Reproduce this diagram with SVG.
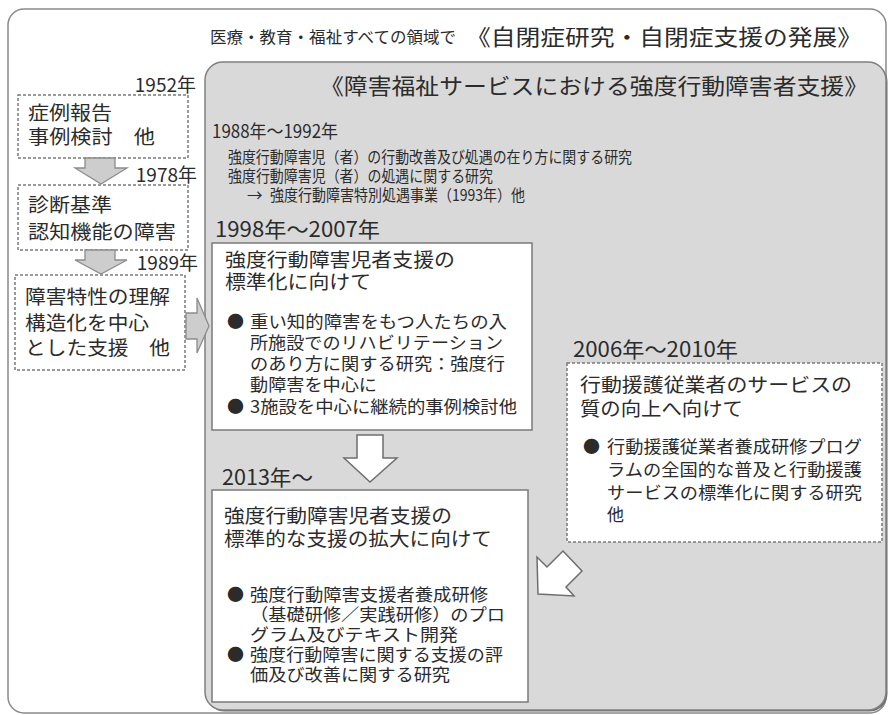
<svg xmlns="http://www.w3.org/2000/svg" width="888" height="715" viewBox="0 0 888 715">
<style>
text{font-family:"Noto Sans CJK JP","Noto Sans",sans-serif;fill:#2b2b2b}
.dash{fill:#fff;stroke:#7a7a7a;stroke-width:1.5;stroke-dasharray:3 2}
.solid{fill:#fff;stroke:#7a7a7a;stroke-width:1.5}
.garrow{fill:#cdcdcd;stroke:#8c8c8c;stroke-width:1.3}
.warrow{fill:#fff;stroke:#6e6e6e;stroke-width:1.5}
.t20{font-size:19px}
.t18{font-size:17px}
.t16{font-size:15.5px}
</style>
<rect x="8" y="9" width="878" height="704" rx="16" fill="#fff" stroke="#8a8a8a" stroke-width="1.5"/>
<text x="210" y="43" font-size="16" textLength="246" lengthAdjust="spacingAndGlyphs">医療・教育・福祉すべての領域で</text>
<text x="466" y="45" font-size="22" textLength="396" lengthAdjust="spacingAndGlyphs">《自閉症研究・自閉症支援の発展》</text>

<g id="panel">
<rect x="206.5" y="63.5" width="681" height="648" rx="18" fill="#6f6f6f"/>
<rect x="205" y="62" width="681" height="648" rx="18" fill="#d9d9d9" stroke="#808080" stroke-width="1.5"/>
<text x="320" y="94" font-size="22" textLength="548" lengthAdjust="spacingAndGlyphs">《障害福祉サービスにおける強度行動障害者支援》</text>
</g>

<g id="left1952">
<text x="196" y="92" font-size="19" text-anchor="end">1952年</text>
<rect class="dash" x="18" y="95" width="170" height="63"/>
<text class="t20" x="28" y="120" textLength="84" lengthAdjust="spacingAndGlyphs">症例報告</text>
<text class="t20" x="28" y="144" textLength="127" lengthAdjust="spacingAndGlyphs">事例検討　他</text>
</g>
<g id="left1978">
<text x="197" y="182" font-size="19" text-anchor="end">1978年</text>
<rect class="dash" x="18" y="185" width="170" height="65"/>
<text class="t20" x="28" y="212" textLength="84" lengthAdjust="spacingAndGlyphs">診断基準</text>
<text class="t20" x="28" y="239" textLength="148" lengthAdjust="spacingAndGlyphs">認知機能の障害</text>
</g>
<g id="left1989">
<text x="198" y="270" font-size="19" text-anchor="end">1989年</text>
<rect class="dash" x="15" y="275" width="170" height="95"/>
<text class="t20" x="25" y="304" textLength="145" lengthAdjust="spacingAndGlyphs">障害特性の理解</text>
<text class="t20" x="25" y="330" textLength="124" lengthAdjust="spacingAndGlyphs">構造化を中心</text>
<text class="t20" x="25" y="355" textLength="145" lengthAdjust="spacingAndGlyphs">とした支援　他</text>
</g>

<g id="p1988">
<text x="212" y="138" font-size="18" textLength="126" lengthAdjust="spacingAndGlyphs">1988年～1992年</text>
<text class="t16" x="228" y="163" textLength="404" lengthAdjust="spacingAndGlyphs">強度行動障害児（者）の行動改善及び処遇の在り方に関する研究</text>
<text class="t16" x="228" y="182" textLength="265" lengthAdjust="spacingAndGlyphs">強度行動障害児（者）の処遇に関する研究</text>
<text class="t16" x="247" y="201">→</text>
<text class="t16" x="270" y="201" textLength="255" lengthAdjust="spacingAndGlyphs">強度行動障害特別処遇事業（1993年）他</text>
</g>

<g id="p1998">
<text x="215" y="237" font-size="21" textLength="165" lengthAdjust="spacingAndGlyphs">1998年～2007年</text>
<rect class="solid" x="212" y="243" width="320" height="187"/>
<text class="t20" x="225" y="267" textLength="230" lengthAdjust="spacingAndGlyphs">強度行動障害児者支援の</text>
<text class="t20" x="225" y="289" textLength="146" lengthAdjust="spacingAndGlyphs">標準化に向けて</text>
<text class="t18" x="227" y="328">●</text>
<text class="t18" x="250" y="328" textLength="257" lengthAdjust="spacingAndGlyphs">重い知的障害をもつ人たちの入</text>
<text class="t18" x="250" y="349" textLength="253" lengthAdjust="spacingAndGlyphs">所施設でのリハビリテーション</text>
<text class="t18" x="250" y="370" textLength="255" lengthAdjust="spacingAndGlyphs">のあり方に関する研究：強度行</text>
<text class="t18" x="250" y="391" textLength="127" lengthAdjust="spacingAndGlyphs">動障害を中心に</text>
<text class="t18" x="227" y="413">●</text>
<text class="t18" x="250" y="413" textLength="267" lengthAdjust="spacingAndGlyphs">3施設を中心に継続的事例検討他</text>
</g>

<g id="p2006">
<rect class="dash" x="567" y="363" width="315" height="179"/>
<text x="573" y="357" font-size="21" textLength="165" lengthAdjust="spacingAndGlyphs">2006年～2010年</text>
<text class="t20" x="580" y="392" textLength="272" lengthAdjust="spacingAndGlyphs">行動援護従業者のサービスの</text>
<text class="t20" x="580" y="416" textLength="163" lengthAdjust="spacingAndGlyphs">質の向上へ向けて</text>
<text class="t18" x="583" y="453">●</text>
<text class="t18" x="607" y="453" textLength="255" lengthAdjust="spacingAndGlyphs">行動援護従業者養成研修プログ</text>
<text class="t18" x="607" y="476" textLength="255" lengthAdjust="spacingAndGlyphs">ラムの全国的な普及と行動援護</text>
<text class="t18" x="607" y="499" textLength="255" lengthAdjust="spacingAndGlyphs">サービスの標準化に関する研究</text>
<text class="t18" x="607" y="521">他</text>
</g>

<g id="p2013">
<text x="222" y="485" font-size="21" textLength="91" lengthAdjust="spacingAndGlyphs">2013年～</text>
<rect class="solid" x="212" y="490" width="316" height="212"/>
<text class="t20" x="224" y="523" textLength="228" lengthAdjust="spacingAndGlyphs">強度行動障害児者支援の</text>
<text class="t20" x="224" y="546" textLength="268" lengthAdjust="spacingAndGlyphs">標準的な支援の拡大に向けて</text>
<text class="t18" x="227" y="601">●</text>
<text class="t18" x="250" y="601" textLength="238" lengthAdjust="spacingAndGlyphs">強度行動障害支援者養成研修</text>
<text class="t18" x="250" y="621" textLength="255" lengthAdjust="spacingAndGlyphs">（基礎研修／実践研修）のプロ</text>
<text class="t18" x="250" y="641" textLength="208" lengthAdjust="spacingAndGlyphs">グラム及びテキスト開発</text>
<text class="t18" x="227" y="661">●</text>
<text class="t18" x="250" y="661" textLength="253" lengthAdjust="spacingAndGlyphs">強度行動障害に関する支援の評</text>
<text class="t18" x="250" y="681" textLength="200" lengthAdjust="spacingAndGlyphs">価及び改善に関する研究</text>
</g>

<g id="connectors">
<polygon class="garrow" points="85,158 115,158 115,168 127,168 101,184 75,168 85,168"/>
<polygon class="garrow" points="85,250 115,250 115,260 127,260 101,274 75,260 85,260"/>
<polygon class="garrow" points="186,313 197,313 197,298 209,326 197,353 197,339 186,339"/>
<polygon class="warrow" points="357,435 383,435 383,458 397,458 370,482 344,458 357,458"/>
<polygon class="warrow" points="538,594 537,557 547,567 563,551 582,571 566,587 574,596"/>
</g>
</svg>
